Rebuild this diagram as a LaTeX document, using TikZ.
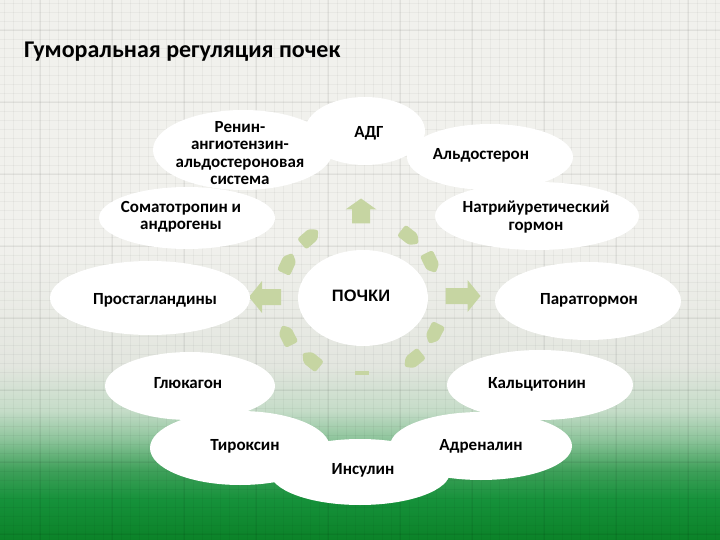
\documentclass[tikz,border=0pt]{standalone}
\usepackage{fontspec}
\setmainfont{Carlito}
\newfontfamily\arialf{Liberation Sans}
\usetikzlibrary{shapes.geometric}
\definecolor{bgL}{HTML}{F1F1ED}
\definecolor{bgM}{HTML}{E3E6DF}
\definecolor{bgG0}{HTML}{C5DCC8}
\definecolor{bgG1}{HTML}{8CC49A}
\definecolor{bgG2}{HTML}{3FA05A}
\definecolor{bgG3}{HTML}{15913A}
\definecolor{bgG4}{HTML}{0B8228}
\definecolor{arrg}{HTML}{C6D5A2}
% path bbox maps to 25bp..75bp of the shading; v (px from bottom) -> 25 + v*50/540
\pgfdeclareverticalshading{bgshade}{100bp}{color(0bp)=(bgG4); color(25bp)=(bgG4); color(28.7bp)=(bgG3); color(31.5bp)=(bgG2); color(34.3bp)=(bgG1); color(37bp)=(bgG0); color(41.2bp)=(bgM); color(52.8bp)=(bgL); color(75bp)=(bgL); color(100bp)=(bgL)}
\tikzset{
  bubble/.style={ellipse, fill=white, draw=none, inner sep=0pt},
  lbl/.style={font=\fontsize{17}{17.5}\selectfont\bfseries, align=center, inner sep=0pt, text=black},
  gridl/.style={black, opacity=0.035, line width=0.7pt},
  garrowfill/.style={fill=arrg, draw=none},
}
% \garrow{x}{y}{angle}{length}{body width}{head width}{head length}
\newcommand\garrow[7]{%
  \fill[garrowfill, shift={(#1,#2)}, rotate=#3]
    (-#4/2,-#5/2) -- (#4/2-#7,-#5/2) -- (#4/2-#7,-#6/2) -- (#4/2,0)
    -- (#4/2-#7,#6/2) -- (#4/2-#7,#5/2) -- (-#4/2,#5/2) -- cycle;}
\newcommand\tarrow[3]{%
  \fill[garrowfill, rounded corners=2.5pt, shift={(#1,#2)}, rotate=#3]
    (-11,-7) -- (4,-7) -- (11,0) -- (4,7) -- (-11,7) -- cycle;}
\begin{document}
\begin{tikzpicture}[x=1pt,y=-1pt]
\useasboundingbox (0,0) rectangle (720,540);
\shade[shading=bgshade] (0,0) rectangle (720,540);
\foreach \x in {4,13,...,720} \draw[gridl] (\x,0) -- (\x,540);
\foreach \y in {3,12,...,540} \draw[gridl] (0,\y) -- (720,\y);
\foreach \x in {40,112,...,720} \draw[gridl, line width=1.6pt] (\x,0) -- (\x,540);
\foreach \y in {30,102,...,540} \draw[gridl, line width=1.6pt] (0,\y) -- (720,\y);

\node[anchor=west, inner sep=0pt, font=\fontsize{24}{28}\selectfont\bfseries] (title) at (24,52) {Гуморальная регуляция почек};

% arrows around the kidney
\garrow{361}{211}{90}{25}{18}{31}{11}
\garrow{463}{296}{0}{35}{16}{32}{13}
\garrow{265}{297}{180}{32}{16}{32}{13}
\tarrow{410}{237}{-38}
\tarrow{431}{263}{-64}
\tarrow{310}{237}{41}
\tarrow{288}{263}{65}
\tarrow{287}{335}{117}
\tarrow{311}{360}{141}
\tarrow{434}{334}{243}
\tarrow{413}{360}{219}
\node[fill=arrg, inner sep=0pt, minimum width=14pt, minimum height=4pt] (abot) at (362,373) {};

% bubbles
\node[bubble, minimum width=180pt, minimum height=80pt] (eren) at (243,150) {};
\node[bubble, minimum width=120pt, minimum height=68pt] (eadg) at (365,131) {};
\node[bubble, minimum width=166pt, minimum height=66pt] (eald) at (490,157) {};
\node[bubble, minimum width=176pt, minimum height=62pt] (esom) at (187,218) {};
\node[bubble, minimum width=204pt, minimum height=68pt] (enat) at (537,216) {};
\node[bubble, minimum width=200pt, minimum height=74pt] (epro) at (150,298) {};
\node[bubble, minimum width=130pt, minimum height=96pt] (epoc) at (363,298) {};
\node[bubble, minimum width=186pt, minimum height=78pt] (epar) at (588,301) {};
\node[bubble, minimum width=170pt, minimum height=68pt] (eglu) at (190,386) {};
\node[bubble, minimum width=186pt, minimum height=70pt] (ekal) at (540,385) {};
\node[bubble, minimum width=180pt, minimum height=66pt] (eins) at (360,472) {};
\node[bubble, minimum width=180pt, minimum height=74pt] (etir) at (240,448) {};
\node[bubble, minimum width=182pt, minimum height=68pt] (eadr) at (481,446) {};

% labels
\node[lbl] (tren) at (240,153) {Ренин-\\ангиотензин-\\альдостероновая\\система};
\node[lbl] (tadg) at (369,133) {АДГ};
\node[lbl] (tald) at (481,155) {Альдостерон};
\node[lbl] (tsom) at (181,217) {Соматотропин и\\андрогены};
\node[lbl] (tnat) at (536,217) {Натрийуретический\\гормон};
\node[lbl] (tpro) at (155,300) {Простагландины};
\node[lbl, font=\arialf\fontsize{16.5}{18}\selectfont\bfseries] (tpoc) at (361,296) {ПОЧКИ};
\node[lbl] (tpar) at (589,300) {Паратгормон};
\node[lbl] (tglu) at (188,383) {Глюкагон};
\node[lbl] (tkal) at (537,384) {Кальцитонин};
\node[lbl] (ttir) at (245,446) {Тироксин};
\node[lbl] (tadr) at (481,446) {Адреналин};
\node[lbl] (tins) at (363,470) {Инсулин};
\end{tikzpicture}
\end{document}
